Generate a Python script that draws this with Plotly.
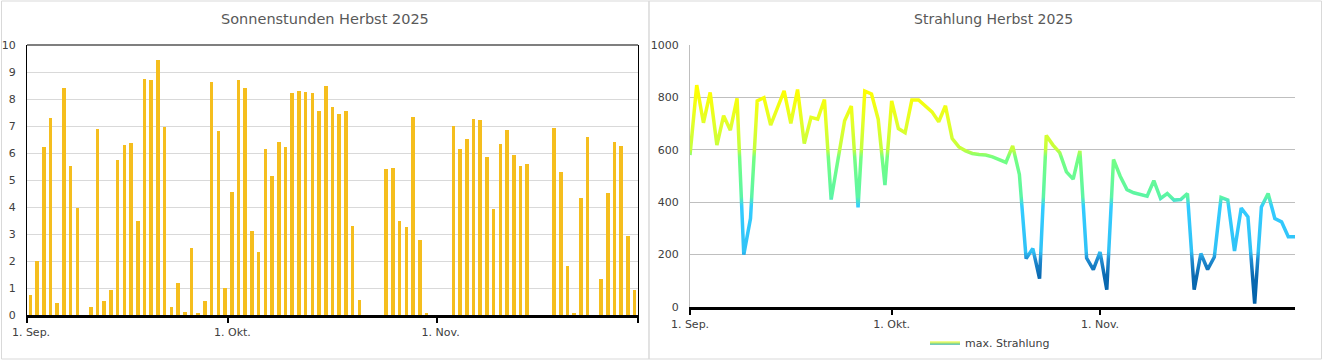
import json
import pandas as pd
import plotly.graph_objects as go

# ---------------- data ----------------
dates = pd.date_range("2025-09-01", "2025-11-30", freq="D")

sun_hours = [0.75, 2.0, 6.23, 7.31, 0.46, 8.42, 5.53, 3.98, 0, 0.31,
             6.9, 0.53, 0.94, 5.75, 6.3, 6.38, 3.49, 8.75, 8.72, 9.46,
             6.98, 0.31, 1.2, 0.12, 2.49, 0.04, 0.53, 8.64, 6.83, 0.99,
             4.57, 8.7, 8.42, 3.12, 2.35, 6.16, 5.14, 6.41, 6.23, 8.23,
             8.3, 8.27, 8.23, 7.57, 8.49, 7.7, 7.44, 7.56, 3.3, 0.56,
             0, 0, 0, 5.41, 5.44, 3.48, 3.26, 7.33, 2.78, 0.04,
             0, 0, 0, 7.0, 6.15, 6.52, 7.26, 7.22, 5.85, 3.93,
             6.33, 6.85, 5.93, 5.52, 5.59, 0, 0, 0, 6.93, 5.3,
             1.81, 0.04, 4.33, 6.59, 0, 1.35, 4.52, 6.41, 6.27, 2.93,
             0.93]

radiation = [580, 847, 703, 819, 618, 730, 675, 796, 200, 338,
             787, 799, 694, 758, 825, 701, 830, 624, 724, 717,
             792, 410, 569, 711, 767, 380, 824, 813, 716, 465,
             787, 681, 665, 790, 790, 767, 745, 707, 768, 643,
             611, 596, 586, 582, 580, 573, 563, 552, 615, 506,
             185, 223, 108, 655, 618, 589, 516, 488, 596, 187,
             143, 210, 66, 563, 499, 448, 436, 429, 423, 482,
             414, 433, 408, 410, 433, 66, 204, 143, 191, 418,
             408, 214, 378, 344, 13, 382, 433, 338, 325, 268,
             268]

month_ticks = ["2025-09-01", "2025-10-01", "2025-11-01", "2025-12-01"]
month_labels = ["1. Sep.", "1. Okt.", "1. Nov.", ""]

title_left = "Sonnenstunden Herbst 2025"
title_right = "Strahlung Herbst 2025"
series_name = "max. Strahlung"

# ---------------- style ----------------
W, H = 1323, 360
FONT = "DejaVu Sans"
TXT = "#404040"
BAR_COLOR = "#F5BE1E"
# gradient stops for the radiation line (value on y axis -> colour)
grad_stops = [(1000, "#FFFF00"), (830, "#FFFF00"), (700, "#E2FF2A"),
              (600, "#C4FF3C"), (572, "#74FF82"), (420, "#5CF5A5"),
              (385, "#33CCFF"), (212, "#30C2F6"), (182, "#1F8BD0"),
              (120, "#0A6AB2"), (0, "#0060A8")]


def px(v):
    return v / W


def py(v):
    return (H - v) / H


fig = go.Figure()

fig.add_trace(go.Bar(
    x=dates, y=sun_hours, xaxis="x", yaxis="y",
    xperiod=86400000, xperiodalignment="middle",
    width=0.55 * 86400000,
    marker=dict(color=BAR_COLOR, line=dict(width=0)),
    showlegend=False, name=title_left,
))

fig.add_trace(go.Scatter(
    x=dates, y=radiation, xaxis="x2", yaxis="y2",
    mode="lines", line=dict(color="#9EF06A", width=3.5),
    name=series_name, showlegend=True,
))

axis_font = dict(family=FONT, size=11, color=TXT)

fig.update_layout(
    width=W, height=H,
    margin=dict(l=0, r=0, t=0, b=0, pad=0, autoexpand=False),
    paper_bgcolor="white", plot_bgcolor="white",
    font=dict(family=FONT, size=11, color=TXT),
    bargap=0,
    xaxis=dict(
        domain=[px(27), px(638)], anchor="y", type="date",
        range=["2025-09-01", "2025-12-01"],
        tickvals=month_ticks, ticktext=month_labels,
        ticks="outside", ticklen=5, tickwidth=2, tickcolor="black",
        showline=True, linecolor="black", linewidth=3,
        showgrid=False, zeroline=False, tickfont=axis_font,
        ticklabelshift=4, automargin=False,
    ),
    yaxis=dict(
        domain=[py(315), py(45)], anchor="x",
        range=[0, 10], dtick=1,
        showgrid=True, gridcolor="#D9D9D9", gridwidth=1,
        showline=True, linecolor="black", linewidth=1, mirror=True,
        ticks="outside", ticklen=8, tickcolor="rgba(0,0,0,0)",
        zeroline=False, tickfont=axis_font, automargin=False,
    ),
    xaxis2=dict(
        domain=[px(690), px(1295)], anchor="y2", type="date",
        range=["2025-09-01", "2025-11-30"],
        tickvals=month_ticks[:3], ticktext=month_labels[:3],
        ticks="outside", ticklen=5, tickwidth=2, tickcolor="black",
        showline=True, linecolor="black", linewidth=3,
        showgrid=False, zeroline=False, tickfont=axis_font,
        automargin=False,
    ),
    yaxis2=dict(
        domain=[py(307), py(45)], anchor="x2",
        range=[0, 1000], dtick=200,
        showgrid=True, gridcolor="#BFBFBF", gridwidth=1,
        showline=True, linecolor="#BFBFBF", linewidth=1,
        ticks="outside", ticklen=8, tickcolor="rgba(0,0,0,0)",
        zeroline=False, tickfont=axis_font, automargin=False,
    ),
    legend=dict(
        orientation="h", x=px(990), xanchor="center",
        y=py(343), yanchor="middle",
        font=dict(family=FONT, size=11, color=TXT),
        bgcolor="rgba(0,0,0,0)",
    ),
    annotations=[
        dict(text=title_left, x=px(325), y=py(19), xref="paper", yref="paper",
             showarrow=False, xanchor="center", yanchor="middle",
             font=dict(family=FONT, size=14.5, color="#595959")),
        dict(text=title_right, x=px(993), y=py(19), xref="paper", yref="paper",
             showarrow=False, xanchor="center", yanchor="middle",
             font=dict(family=FONT, size=14, color="#595959")),
    ],
    shapes=[
        # top border of left plot area
        dict(type="line", xref="x domain", yref="y domain",
             x0=0, x1=1, y0=1, y1=1, line=dict(color="black", width=1.2)),
        # chart frames
        dict(type="rect", xref="paper", yref="paper",
             x0=px(1.5), x1=px(649), y0=py(359), y1=py(1),
             line=dict(color="#D9D9D9", width=1)),
        dict(type="rect", xref="paper", yref="paper",
             x0=px(649), x1=px(1321.5), y0=py(359), y1=py(1),
             line=dict(color="#D9D9D9", width=1)),
    ],
)

post_js = """
document.documentElement.style.margin = '0';
document.body.style.margin = '0';
document.body.style.overflow = 'hidden';
var gd = document.getElementById('{plot_id}');
var STOPS = %s;
function mkGrad(id, y1, y2, stops) {
  var ns = 'http://www.w3.org/2000/svg';
  var svg = gd.querySelector('svg.main-svg');
  var defs = svg.querySelector('defs');
  if (!defs) { defs = document.createElementNS(ns, 'defs'); svg.insertBefore(defs, svg.firstChild); }
  var g = document.createElementNS(ns, 'linearGradient');
  g.setAttribute('id', id);
  g.setAttribute('gradientUnits', 'userSpaceOnUse');
  g.setAttribute('x1', 0); g.setAttribute('x2', 0);
  g.setAttribute('y1', y1); g.setAttribute('y2', y2);
  stops.forEach(function(s){
    var st = document.createElementNS(ns, 'stop');
    st.setAttribute('offset', s[0]);
    st.setAttribute('stop-color', s[1]);
    g.appendChild(st);
  });
  defs.appendChild(g);
}
var ya = gd._fullLayout.yaxis2;
var top = ya.l2p(1000), bot = ya.l2p(0);
var st = STOPS.map(function(s){ return [(1000 - s[0]) / 1000, s[1]]; });
mkGrad('strahlGrad', top, bot, st);
mkGrad('legGrad', -2, 2, [[0, '#FFFF66'], [0.45, '#C8F070'], [1, '#1FA7B5']]);
gd.querySelectorAll('.subplot.x2y2 .scatterlayer .js-line').forEach(function(p){
  p.style.stroke = 'url(#strahlGrad)';
});
gd.querySelectorAll('.legend .js-line').forEach(function(p){
  p.style.stroke = 'url(#legGrad)';
});
""" % json.dumps(grad_stops)

fig.write_html("out.html", post_script=post_js,
               config={"responsive": False, "displayModeBar": False})
